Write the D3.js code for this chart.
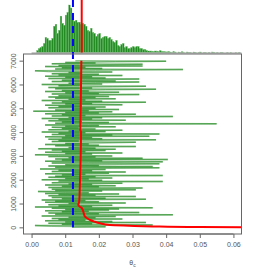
<!DOCTYPE html>
<html>
<head>
<meta charset="utf-8">
<script src="https://cdn.jsdelivr.net/npm/d3@7"></script>
<style>
  body { margin: 0; background: #fff; }
  text { font-family: "Liberation Sans", Arial, sans-serif; }
</style>
</head>
<body>
<svg id="svg1" width="273" height="273"></svg>
<script>
// histogram: bins of 0.0005 starting at 0.0015
const binStart = 0.0015;
const binWidth = 0.0005;
const histCounts = [8,16,20,24,36,60,56,48,48,56,104,112,76,88,144,116,108,148,160,188,
  176,156,124,128,120,120,112,116,112,104,88,84,96,80,76,64,72,76,56,60,
  64,64,56,60,52,44,40,48,28,24,32,36,20,24,16,16,20,24,20,24,
  24,16,16,12,12,8,6,6,6,4,6,6,4,8,4,4,
  3,2,4,2,1,3,2,0,2,1,3,1,0,2,1,1,0,2,1,0,1,2,0,1,1,0,1,0,2,1,0,1,0,1,1,0,0,1,0,1,0,0,1,0,1];

// trace, one value every 25 iterations (0..7000)
const traceStep = 25;
const traceValues = [
  0.012,0.022,0.006,0.001,0.036,0.009,0.018,0.005,0.034,0.010,
  0.024,0.004,0.016,0.008,0.027,0.006,0.019,0.011,0.025,0.003,
  0.015,0.042,0.007,0.020,0.005,0.032,0.009,0.017,0.004,0.023,
  0.010,0.026,0.006,0.036,0.001,0.018,0.008,0.024,0.005,0.014,
  0.011,0.028,0.004,0.020,0.007,0.016,0.003,0.034,0.009,0.022,
  0.006,0.013,0.031,0.005,0.019,0.008,0.026,0.004,0.017,0.010,
  0.0019,0.021,0.007,0.031,0.006,0.015,0.033,0.005,0.020,0.009,
  0.025,0.004,0.018,0.011,0.027,0.006,0.014,0.039,0.008,0.021,
  0.003,0.017,0.010,0.024,0.005,0.019,0.007,0.039,0.009,0.016,
  0.004,0.023,0.012,0.028,0.006,0.018,0.008,0.022,0.0025,0.015,
  0.038,0.007,0.036,0.005,0.020,0.010,0.026,0.038,0.006,0.017,
  0.039,0.004,0.021,0.009,0.0405,0.007,0.033,0.011,0.019,0.005,
  0.024,0.008,0.001,0.018,0.010,0.027,0.004,0.016,0.009,0.022,
  0.006,0.025,0.002,0.019,0.011,0.015,0.031,0.007,0.020,0.004,
  0.017,0.010,0.023,0.031,0.006,0.014,0.008,0.037,0.005,0.021,
  0.009,0.018,0.004,0.035,0.010,0.024,0.006,0.038,0.008,0.016,
  0.003,0.022,0.011,0.027,0.005,0.019,0.009,0.014,0.006,0.025,
  0.010,0.020,0.004,0.017,0.055,0.007,0.023,0.009,0.015,0.005,
  0.028,0.008,0.018,0.003,0.021,0.011,0.042,0.006,0.016,0.009,
  0.031,0.004,0.020,0.010,0.024,0.0005,0.017,0.007,0.026,0.012,
  0.019,0.005,0.022,0.008,0.015,0.004,0.027,0.010,0.018,0.006,
  0.034,0.009,0.021,0.003,0.016,0.011,0.025,0.007,0.019,0.005,
  0.023,0.008,0.014,0.032,0.006,0.020,0.010,0.026,0.004,0.017,
  0.009,0.022,0.037,0.007,0.018,0.005,0.024,0.034,0.008,0.015,
  0.003,0.021,0.011,0.019,0.032,0.006,0.025,0.009,0.016,0.032,
  0.005,0.022,0.010,0.018,0.004,0.027,0.008,0.020,0.006,0.015,
  0.011,0.024,0.005,0.001,0.019,0.045,0.007,0.021,0.009,0.016,
  0.004,0.033,0.008,0.023,0.033,0.006,0.019,0.010,0.025,0.040,
  0.013];

// running mean (red)
const meanIters = [0,15,40,68,97,169,250,308,380,447,550,646,740,814,880,941,1050,1152,1500,2000,3000,4000,4100,5000,6000,7000];
const meanValues = [0.075,0.05,0.036,0.029,0.0233,0.0204,0.0185,0.0174,0.0165,0.0159,0.0156,0.0154,0.0152,0.0149,0.0142,0.0139,0.0141,0.0142,0.0143,0.0144,0.0146,0.0147,0.0145,0.0146,0.0147,0.0148];

const meanLine = 0.0149;
const refLine = 0.0123;
const xTicks = [0, 0.01, 0.02, 0.03, 0.04, 0.05, 0.06];
const yTicks = [0, 1000, 2000, 3000, 4000, 5000, 6000, 7000];

const svg = d3.select('#svg1');
const box = { left: 23.5, right: 241.5, top: 54, bottom: 234 };
const histBase = 52.5;
const axisCol = '#666';

const x = d3.scaleLinear().domain([-0.0024, 0.0624]).range([box.left, box.right]);
const y = d3.scaleLinear().domain([-280, 7280]).range([box.bottom, box.top]);
const yh = d3.scaleLinear().domain([0, d3.max(histCounts)]).range([histBase, 5]);

// histogram
svg.append('g').selectAll('rect')
  .data(histCounts)
  .enter().append('rect')
  .attr('x', (d, i) => x(binStart + i * binWidth))
  .attr('width', x(binWidth) - x(0))
  .attr('y', d => yh(d))
  .attr('height', d => histBase - yh(d))
  .attr('fill', '#228B22')
  .attr('stroke', '#6fbf6f')
  .attr('stroke-width', 0.3);

svg.append('line')
  .attr('x1', x(0)).attr('x2', box.right)
  .attr('y1', histBase + 0.5).attr('y2', histBase + 0.5)
  .attr('stroke', '#999').attr('stroke-width', 1);

// trace panel
svg.append('clipPath').attr('id', 'clip')
  .append('rect')
  .attr('x', box.left).attr('y', box.top)
  .attr('width', box.right - box.left).attr('height', box.bottom - box.top);

// one segment per step so overlaps build up darker
const segments = d3.pairs(traceValues.map((v, i) => [i * traceStep, v]));

svg.append('g')
  .attr('clip-path', 'url(#clip)')
  .selectAll('line')
  .data(segments)
  .enter().append('line')
  .attr('x1', d => x(d[0][1]))
  .attr('y1', d => y(d[0][0]))
  .attr('x2', d => x(d[1][1]))
  .attr('y2', d => y(d[1][0]))
  .attr('stroke', '#228B22')
  .attr('stroke-opacity', 0.52)
  .attr('stroke-width', 1.5);

// blue dashed reference
svg.append('line')
  .attr('x1', x(refLine)).attr('x2', x(refLine))
  .attr('y1', 0).attr('y2', y(0))
  .attr('stroke', 'blue').attr('stroke-width', 2)
  .attr('stroke-dasharray', '7,6');

// red mean in histogram
svg.append('line')
  .attr('x1', x(meanLine)).attr('x2', x(meanLine))
  .attr('y1', 0).attr('y2', histBase)
  .attr('stroke', 'red').attr('stroke-width', 2);

// running mean curve
const meanPath = d3.line()
  .x(d => x(d[1]))
  .y(d => y(d[0]))
  .curve(d3.curveMonotoneY);

svg.append('path')
  .datum(meanIters.map((it, i) => [it, meanValues[i]]))
  .attr('d', meanPath)
  .attr('fill', 'none')
  .attr('stroke', 'red')
  .attr('stroke-width', 2)
  .attr('clip-path', 'url(#clip)');

// box
svg.append('rect')
  .attr('x', box.left).attr('y', box.top)
  .attr('width', box.right - box.left).attr('height', box.bottom - box.top)
  .attr('fill', 'none').attr('stroke', axisCol).attr('stroke-width', 1);

// x axis
const xAxis = svg.append('g')
  .attr('transform', `translate(0, ${box.bottom})`)
  .call(d3.axisBottom(x).tickValues(xTicks).tickFormat(d3.format('.2f')).tickSize(4).tickPadding(4));
xAxis.select('.domain')
  .attr('d', `M${x(0)},0H${x(0.06)}`)
  .attr('stroke', axisCol);
xAxis.selectAll('.tick line').attr('stroke', axisCol);
xAxis.selectAll('.tick text')
  .attr('fill', '#555')
  .style('font-size', '7px')
  .style('font-family', '"Liberation Sans", Arial, sans-serif');

// y axis
const yAxis = svg.append('g')
  .attr('transform', `translate(${box.left}, 0)`)
  .call(d3.axisLeft(y).tickValues(yTicks).tickFormat(d3.format('d')).tickSize(4).tickPadding(4));
yAxis.select('.domain')
  .attr('d', `M0,${y(0)}V${y(7000)}`)
  .attr('stroke', axisCol);
yAxis.selectAll('.tick line').attr('stroke', axisCol);
yAxis.selectAll('.tick text')
  .attr('fill', '#555')
  .style('font-size', '7px')
  .style('font-family', '"Liberation Sans", Arial, sans-serif')
  .attr('transform', 'rotate(-90)')
  .attr('x', 0)
  .attr('y', -10)
  .attr('dy', '0.32em')
  .style('text-anchor', 'middle');

// x label
const lab = svg.append('text')
  .attr('x', (box.left + box.right) / 2)
  .attr('y', 265)
  .attr('text-anchor', 'middle')
  .attr('fill', '#555')
  .style('font-size', '7px');
lab.append('tspan').text('θ');
lab.append('tspan').attr('dy', 1.5).style('font-size', '5px').text('c');
</script>
</body>
</html>
